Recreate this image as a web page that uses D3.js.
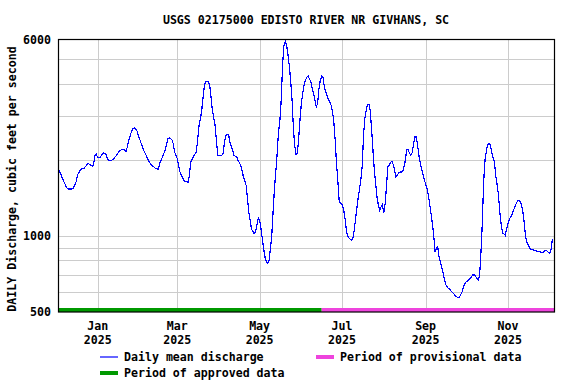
<!DOCTYPE html>
<html>
<head>
<meta charset="utf-8">
<script src="https://cdn.jsdelivr.net/npm/d3@7"></script>
<style>
  body { margin: 0; background: #fff; }
  text { font-family: "DejaVu Sans Mono", monospace; font-weight: bold; font-size: 11.6px; fill: #000; }
</style>
</head>
<body>
<div id="chart"></div>
<script>
// daily mean discharge (cfs)
var dates = [
  "2024-12-03","2024-12-04","2024-12-06","2024-12-08","2024-12-09","2024-12-10","2024-12-13","2024-12-14",
  "2024-12-16","2024-12-17","2024-12-19","2024-12-20","2024-12-22","2024-12-25","2024-12-26","2024-12-28",
  "2024-12-29","2024-12-30","2024-12-31","2025-01-01","2025-01-03","2025-01-05","2025-01-07","2025-01-08",
  "2025-01-09","2025-01-11","2025-01-13","2025-01-15","2025-01-17","2025-01-19","2025-01-20","2025-01-22",
  "2025-01-23","2025-01-24","2025-01-26","2025-01-27","2025-01-28","2025-01-30","2025-01-31","2025-02-01",
  "2025-02-03","2025-02-04","2025-02-06","2025-02-07","2025-02-09","2025-02-11","2025-02-13","2025-02-15",
  "2025-02-16","2025-02-18","2025-02-20","2025-02-21","2025-02-22","2025-02-23","2025-02-25","2025-02-26",
  "2025-02-27","2025-03-01","2025-03-02","2025-03-03","2025-03-05","2025-03-06","2025-03-08","2025-03-09",
  "2025-03-10","2025-03-11","2025-03-13","2025-03-14","2025-03-15","2025-03-16","2025-03-17","2025-03-19",
  "2025-03-20","2025-03-21","2025-03-22","2025-03-24","2025-03-25","2025-03-26","2025-03-27","2025-03-29",
  "2025-03-30","2025-03-31","2025-04-01","2025-04-03","2025-04-04","2025-04-05","2025-04-06","2025-04-07",
  "2025-04-08","2025-04-09","2025-04-11","2025-04-12","2025-04-14","2025-04-15","2025-04-17","2025-04-18",
  "2025-04-19","2025-04-21","2025-04-22","2025-04-23","2025-04-24","2025-04-25","2025-04-27","2025-04-28",
  "2025-04-29","2025-04-30"
]
var flows = [
  1849,1793,1688,1598,1554,1536,1536,1550,
  1637,1740,1821,1843,1855,1941,1918,1889,
  1918,2088,2107,2044,2056,2132,2126,2037,
  1989,1989,2025,2088,2172,2199,2206,2165,
  2253,2394,2583,2663,2679,2623,2521,2431,
  2266,2185,2088,2025,1935,1889,1849,1838,
  1935,2056,2185,2301,2431,2446,2409,2322,
  2152,2025,1906,1793,1698,1652,1647,1627,
  1740,1965,2056,2107,2152,2358,2704,3100,
  3501,3895,4101,4076,3954,3555,3148,2745,
  2394,2088,2075,2088,2120,2358,2506,2529,
  2529,2358,2185,2088,2056,1995,1906,1821,
  1714,1588,1406,1245,1155,1063,1021,1037,
  1109,1179
]
// from May 1 onward, one value per day
var dailyStart = "2025-05-01"
var dailyFlows = [
  1155,1069,976,891,825,789,782,801,891,1006,1245,1540,1793,2120,2583,2847,
  3448,4745,5660,5900,5695,5230,4716,4139,3501,2704,2287,2101,2132,2446,2935,
  3366,3700,3954,4139,4253,4292,4177,4076,3836,3665,3448,3245,3345,3836,4139,
  4292,4240,3895,3721,3587,3480,3396,3294,3119,2830,2394,1935,1637,1372,1351,
  1339,1291,1208,1085,1006,985,973,961,976,1043,1155,1283,1415,1530,1662,1877,
  2506,2917,3148,3314,3314,3148,2623,2185,1821,1603,1427,1323,1264,1303,1331,
  1238,1343,1564,1877,1906,1953,1977,1918,1821,1714,1740,1775,1793,1793,1804,
  1877,1995,2199,2199,2132,2088,2132,2301,2468,2468,2301,2088,1953,1849,1766,1678,
  1603,1540,1458,1343,1226,1120,1006,864,896,905,825,785,746,710,674,
  642,628,619,614,604,596,589,578,574,569,570,586,600,628,648,
  657,663,670,678,690,701,701,695,678,668,695,864,1120,1637,1995,2165,
  2301,2337,2287,2152,2044,1965,1729,1598,1449,1238,1109,1028,1021,1006,1063,
  1120,1162,1190,1219,1264,1295,1339,1372,1385,1372,1331,1253,1137,1000,947,
  919,899,886,883,881,875,872,870,867,864,862,859,872,875,872,
  859,851,891,976
]
var monthTicks = ["2025-01-01","2025-03-01","2025-05-01","2025-07-01","2025-09-01","2025-11-01"]
var yLabels = [500, 1000, 6000]
var yGrid = [600, 700, 800, 900, 1000, 2000, 3000, 4000, 5000]
var approvedEnd = "2025-06-16"
var title = "USGS 02175000 EDISTO RIVER NR GIVHANS, SC"
var yTitle = "DAILY Discharge, cubic feet per second"

var W = 576, H = 384
var plotL = 58.5, plotR = 554.5, plotT = 39.5, plotB = 312

var parse = d3.timeParse("%Y-%m-%d")
var data = dates.map((d, i) => ({ date: parse(d), q: flows[i] }))
dailyFlows.forEach((q, i) => {
    data.push({ date: d3.timeDay.offset(parse(dailyStart), i), q: q })
})

var svg = d3.select("#chart").append("svg")
    .attr("width", W)
    .attr("height", H)

var x = d3.scaleTime()
    .domain([new Date(2024, 11, 3), new Date(2025, 11, 5, 12)])
    .range([plotL, plotR])

var y = d3.scaleLog()
    .domain([500, 6000])
    .range([plotB, plotT])

// grid
svg.append("g").selectAll("line")
    .data(yGrid)
    .enter().append("line")
    .attr("x1", plotL).attr("x2", plotR)
    .attr("y1", d => Math.round(y(d)) + 0.5)
    .attr("y2", d => Math.round(y(d)) + 0.5)
    .attr("stroke", "#cccccc")

svg.append("g").selectAll("line")
    .data(monthTicks.map(parse))
    .enter().append("line")
    .attr("x1", d => Math.round(x(d)) + 0.5)
    .attr("x2", d => Math.round(x(d)) + 0.5)
    .attr("y1", plotT).attr("y2", plotB)
    .attr("stroke", "#cccccc")

// approval bars
var approvedX = x(parse(approvedEnd))
svg.append("rect")
    .attr("x", plotL).attr("y", plotB - 4)
    .attr("width", approvedX - plotL).attr("height", 4)
    .attr("fill", "#009900")
svg.append("rect")
    .attr("x", approvedX).attr("y", plotB - 4)
    .attr("width", plotR - approvedX).attr("height", 4)
    .attr("fill", "#ee44dd")

// discharge line
var line = d3.line()
    .x(d => x(d.date))
    .y(d => y(d.q))

svg.append("path")
    .datum(data)
    .attr("d", line)
    .attr("fill", "none")
    .attr("stroke", "#0000ff")
    .attr("stroke-width", 1.2)
    .attr("shape-rendering", "crispEdges")

// frame
svg.append("rect")
    .attr("x", plotL).attr("y", plotT)
    .attr("width", plotR - plotL).attr("height", plotB - plotT)
    .attr("fill", "none")
    .attr("stroke", "#000")
    .attr("stroke-width", 1.2)

// y labels
svg.append("g").selectAll("text")
    .data(yLabels)
    .enter().append("text")
    .attr("x", 51)
    .attr("y", d => y(d) + 4)
    .attr("text-anchor", "end")
    .text(d => d)

// x labels
var xl = svg.append("g").selectAll("g")
    .data(monthTicks.map(parse))
    .enter().append("g")
    .attr("transform", d => "translate(" + x(d) + ",0)")
xl.append("text")
    .attr("y", 330)
    .attr("text-anchor", "middle")
    .text(d => d3.timeFormat("%b")(d))
xl.append("text")
    .attr("y", 344)
    .attr("text-anchor", "middle")
    .text(d => d3.timeFormat("%Y")(d))

svg.append("text")
    .attr("x", 306).attr("y", 24)
    .attr("text-anchor", "middle")
    .text(title)

svg.append("text")
    .attr("transform", "translate(16,179) rotate(-90)")
    .attr("text-anchor", "middle")
    .text(yTitle)

// legend
var legend = [
    { label: "Daily mean discharge", color: "#0000ff", w: 1.2, x: 100, y: 357 },
    { label: "Period of provisional data", color: "#ee44dd", w: 4, x: 316, y: 357 },
    { label: "Period of approved data", color: "#009900", w: 4, x: 100, y: 373 }
]
var lg = svg.append("g").selectAll("g")
    .data(legend)
    .enter().append("g")
lg.append("line")
    .attr("x1", d => d.x).attr("x2", d => d.x + 18)
    .attr("y1", d => d.y).attr("y2", d => d.y)
    .attr("stroke", d => d.color)
    .attr("stroke-width", d => d.w)
lg.append("text")
    .attr("x", d => d.x + 24)
    .attr("y", d => d.y + 4)
    .text(d => d.label)
</script>
</body>
</html>
